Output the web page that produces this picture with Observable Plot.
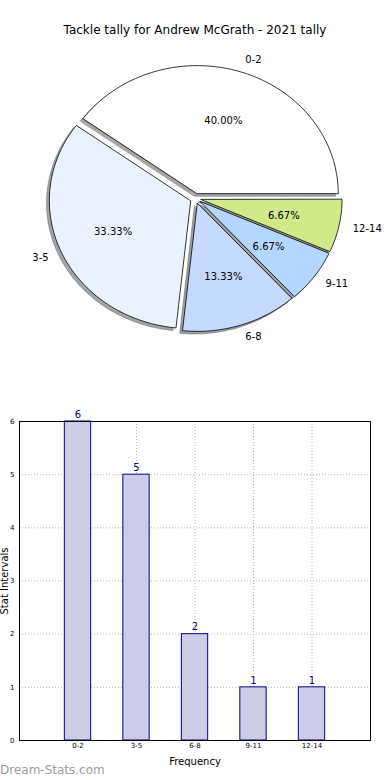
<!DOCTYPE html>
<html>
<head>
<meta charset="utf-8">
<script src="https://cdn.jsdelivr.net/npm/d3@7"></script>
<script src="https://cdn.jsdelivr.net/npm/@observablehq/plot@0.6"></script>
<style>
  html, body { margin: 0; padding: 0; background: #fff; }
  body { width: 390px; height: 780px; position: relative; overflow: hidden; font-family: "DejaVu Sans", sans-serif; }
  #title { position: absolute; top: 21px; left: 0; width: 390px; text-align: center; font-size: 12px; line-height: 18px; color: #000; }
  #pie { position: absolute; top: 40px; left: 0; }
  #bar { position: absolute; top: 400px; left: 0; }
  #mark { position: absolute; top: 762px; left: 0; font-size: 12px; line-height: 16px; color: #9c9c9c; font-family: "DejaVu Sans", sans-serif; }
  svg { overflow: visible; }
</style>
</head>
<body>
<div id="title">Tackle tally for Andrew McGrath - 2021 tally</div>
<div id="pie"></div>
<div id="bar"></div>
<div id="mark">Dream-Stats.com</div>
<script>
// ---- data ----
const categories = ["0-2", "3-5", "6-8", "9-11", "12-14"];
const counts = [6, 5, 2, 1, 1];
const sliceColors = ["#ffffff", "#ebf2ff", "#c6d9ff", "#b4d7ff", "#cfe98b"];
const yTicks = [0, 1, 2, 3, 4, 5, 6];
const titleText = "Tackle tally for Andrew McGrath - 2021 tally";
const xLabel = "Frequency";
const yLabel = "Stat Intervals";

// ---- pie geometry (derived from counts) ----
const total = d3.sum(counts);
const explode = 0.04;
const wedgeRows = [];
const shadowRows = [];
const labelRows = [];
const pctRows = [];
let acc = 0;
counts.forEach((v, i) => {
  const a0 = acc / total * 2 * Math.PI;
  acc += v;
  const a1 = acc / total * 2 * Math.PI;
  const mid = (a0 + a1) / 2;
  const cx = explode * Math.cos(mid), cy = explode * Math.sin(mid);
  const n = Math.max(4, Math.ceil((a1 - a0) / (Math.PI / 180)));
  const pts = [[cx, cy]];
  for (let k = 0; k <= n; k++) {
    const t = a0 + (a1 - a0) * k / n;
    pts.push([cx + Math.cos(t), cy + Math.sin(t)]);
  }
  const c = d3.rgb(sliceColors[i]);
  const dark = d3.rgb(c.r * 0.3, c.g * 0.3, c.b * 0.3).formatHex();
  pts.forEach(([x, y]) => {
    wedgeRows.push({slice: i, x, y, color: sliceColors[i]});
    shadowRows.push({slice: i, x: x - 0.02, y: y - 0.02, color: dark});
  });
  const lx = cx + 1.1 * Math.cos(mid), ly = cy + 1.1 * Math.sin(mid);
  labelRows.push({x: lx, y: ly, text: categories[i], side: lx >= 0 ? "right" : "left"});
  pctRows.push({x: cx + 0.6 * Math.cos(mid), y: cy + 0.6 * Math.sin(mid), text: d3.format(".2f")(v / total * 100) + "%"});
});

const RX = 141, RY = 128, CX = 195, CY = 158, PW = 390, PH = 320;
const pie = Plot.plot({
  width: PW, height: PH,
  margin: 0,
  x: {domain: [-CX / RX, (PW - CX) / RX], axis: null},
  y: {domain: [-(PH - CY) / RY, CY / RY], axis: null},
  color: {type: "identity"},
  style: {fontFamily: "DejaVu Sans, sans-serif", background: "transparent", overflow: "visible"},
  marks: [
    Plot.line(shadowRows, {x: "x", y: "y", z: "slice", curve: "linear-closed", fill: "color", stroke: "color", strokeWidth: 0.8, fillOpacity: 0.5, strokeOpacity: 0.5}),
    Plot.line(wedgeRows, {x: "x", y: "y", z: "slice", curve: "linear-closed", fill: "color", stroke: "#000", strokeWidth: 0.8}),
    Plot.text(labelRows.filter(d => d.side === "right"), {x: "x", y: "y", text: "text", textAnchor: "start", fontSize: 10, fill: "#000"}),
    Plot.text(labelRows.filter(d => d.side === "left"), {x: "x", y: "y", text: "text", textAnchor: "end", fontSize: 10, fill: "#000"}),
    Plot.text(pctRows, {x: "x", y: "y", text: "text", fontSize: 10, fill: "#000"})
  ]
});
document.getElementById("pie").appendChild(pie);

// ---- bar chart ----
const bars = categories.map((c, i) => ({i, cat: c, value: counts[i]}));
const barHalf = 0.225;
const bar = Plot.plot({
  width: 390, height: 380,
  marginTop: 21, marginBottom: 40, marginLeft: 19, marginRight: 20,
  x: {domain: [-1, 5]},
  y: {domain: [0, 6]},
  style: {fontFamily: "DejaVu Sans, sans-serif", background: "transparent", overflow: "visible"},
  marks: [
    Plot.gridX(d3.range(categories.length), {stroke: "#b5b5b5", strokeOpacity: 1, strokeDasharray: "1,2"}),
    Plot.gridY(yTicks, {stroke: "#b5b5b5", strokeOpacity: 1, strokeDasharray: "1,2"}),
    Plot.rectY(bars, {x1: d => d.i - barHalf, x2: d => d.i + barHalf, y1: 0, y2: "value", fill: "#ccccE6", stroke: "#000080", strokeWidth: 1}),
    Plot.text(bars, {x: "i", y: "value", text: d => String(d.value), dy: -7, fontSize: 10, fill: "#000080"}),
    Plot.frame({stroke: "#000", strokeWidth: 1}),
    Plot.axisX(d3.range(categories.length), {tickSize: 0, tickPadding: 3, tickFormat: i => categories[i], fontSize: 7, label: null}),
    Plot.axisY(yTicks, {tickSize: 0, tickPadding: 5, tickFormat: d3.format("d"), fontSize: 7, label: null}),
    Plot.text([xLabel], {frameAnchor: "bottom", lineAnchor: "middle", dy: 21, fontSize: 10, fill: "#000"}),
    Plot.text([yLabel], {frameAnchor: "left", textAnchor: "middle", lineAnchor: "middle", rotate: -90, dx: -15, fontSize: 10, fill: "#000"})
  ]
});
document.getElementById("bar").appendChild(bar);
</script>
</body>
</html>
